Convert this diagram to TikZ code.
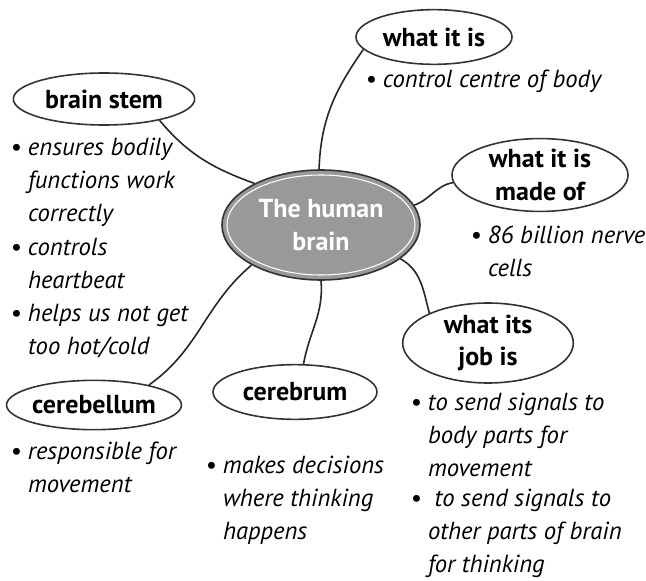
\documentclass[tikz,border=0pt]{standalone}
\usepackage{fontspec}
\setmainfont{PT Sans}
\usetikzlibrary{shapes.geometric}

\newcommand{\bul}{\textbullet\ }
\newcommand{\ind}{\phantom{\textbullet\ }}

\begin{document}
\begin{tikzpicture}[
    x=0.75pt, y=-0.75pt,
    topic/.style={ellipse, draw=black!80, line width=1.2pt, inner sep=0,
        align=center, font=\bfseries\fontsize{19.5}{24.5}\selectfont},
    hub/.style={topic, fill=black!40, text=white,
        path picture={\draw[white, line width=0.8pt]
            (path picture bounding box.center) ellipse [x radius=94, y radius=50];}},
    note/.style={anchor=base west, inner sep=0, align=left,
        font=\itshape\fontsize{18.5}{24.4}\selectfont},
    link/.style={draw=black!85, line width=1.2pt}
]
    \useasboundingbox (0,0) rectangle (646,581);

    % the brain and its parts
    \node[hub, minimum width=148.5pt, minimum height=82.5pt] (brain) at (321,225) {The human\\brain};
    \node[topic, minimum width=117pt, minimum height=41pt] (whatis) at (434,37) {what it is};
    \node[topic, minimum width=136pt, minimum height=39pt] (stem)   at (104,99) {brain stem};
    \node[topic, minimum width=132pt, minimum height=52pt] (madeof) at (540,175) {what it is\\made of};
    \node[topic, minimum width=128pt, minimum height=52pt] (job)    at (488,343) {what its\\job is};
    \node[topic, minimum width=129pt, minimum height=37pt] (cbell)  at (94,405) {cerebellum};
    \node[topic, minimum width=123pt, minimum height=41pt] (cbrum)  at (295,392) {cerebrum};

    % notes (anchored at the baseline of their last line)
    \node[note] (whatisnote) at (365,88)  {\bul control centre of body};
    \node[note] (stemnote1)  at (10,221)  {\bul ensures bodily\\\ind functions work\\\ind correctly};
    \node[note] (stemnote2)  at (10,288)  {\bul controls\\\ind heartbeat};
    \node[note] (stemnote3)  at (10,354)  {\bul helps us not get\\\ind too hot/cold};
    \node[note] (madeofnote) at (470,276) {\bul 86 billion nerve\\\ind cells};
    \node[note] (jobnote1)   at (410,476) {\bul to send signals to\\\ind body parts for\\\ind movement};
    \node[note] (jobnote2)   at (410,572) {\bul \ to send signals to\\\ind other parts of brain\\\ind for thinking};
    \node[note] (cbellnote)  at (10,492)  {\bul responsible for\\\ind movement};
    \node[note] (cbrumnote)  at (205,539) {\bul makes decisions\\\ind where thinking\\\ind happens};

    % links
    \path[link]
        (brain.92)  to[out=88, in=235]  (whatis.190)
        (brain.148) to[out=160, in=-50] (stem.339)
        (brain.12)  to[out=20, in=190]  (madeof.185)
        (brain.-23) to[out=-30, in=105] (job.153)
        (brain.-90) to[out=-85, in=80]  (cbrum.73)
        (brain.210) to[out=220, in=35]  (cbell.20);
\end{tikzpicture}
\end{document}
